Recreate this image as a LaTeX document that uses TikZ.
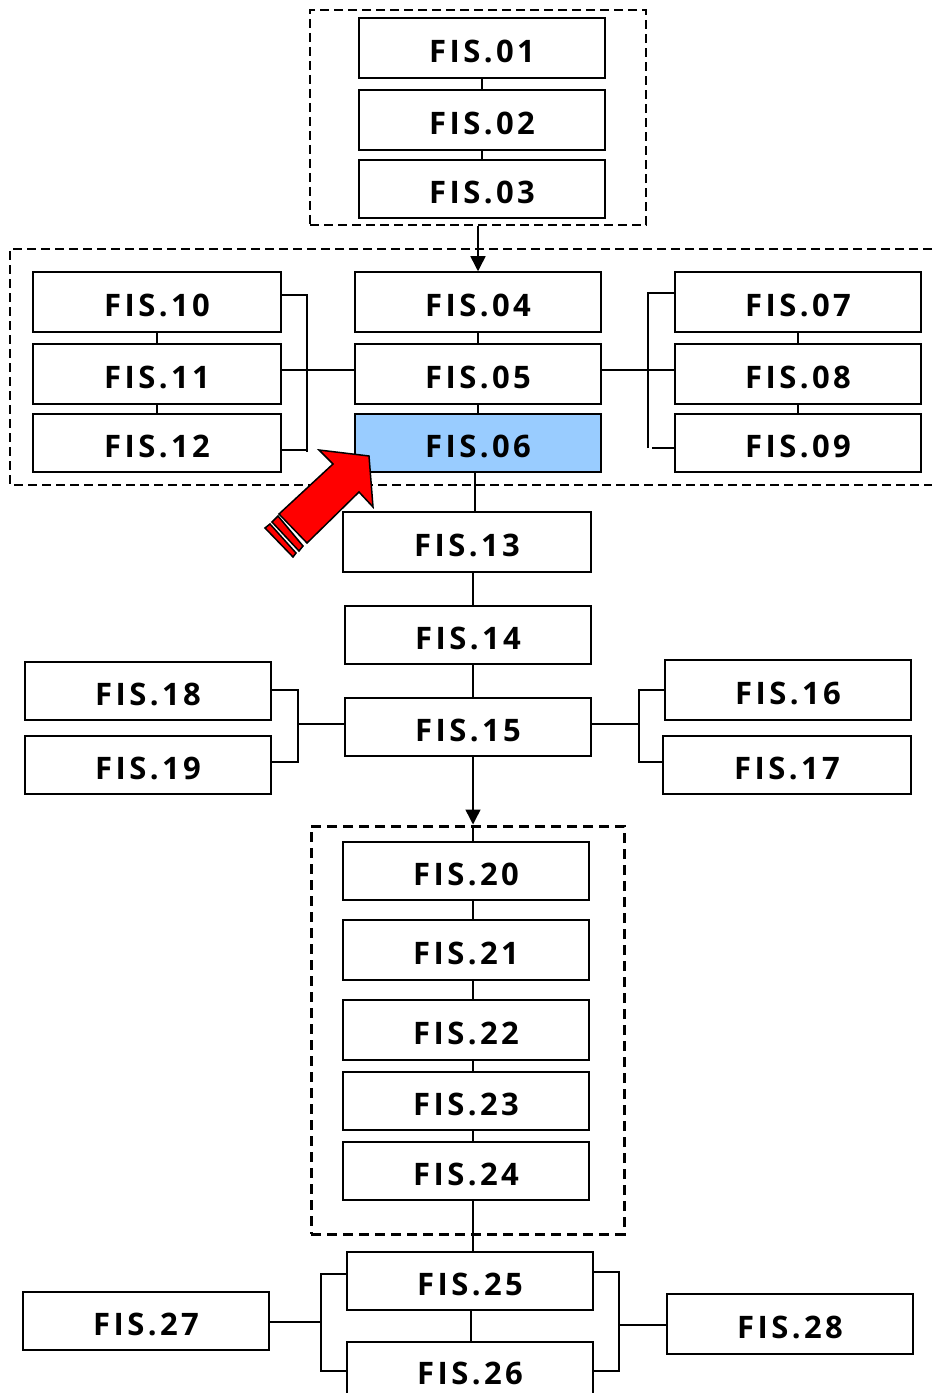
\documentclass[tikz,border=0pt]{standalone}
\usepackage{fontspec}
\usetikzlibrary{arrows.meta,calc}
\newfontfamily\fisfont[LetterSpace=11]{Open Sans}
\tikzset{
  fisbox/.style={draw=black,line width=1.5bp,fill=white,inner sep=0pt,font=\fisfont\bfseries\fontsize{31bp}{31bp}\selectfont},
  conn/.style={draw=black,line width=1.5bp},
  arrowconn/.style={conn,-{Triangle[length=15bp,width=15bp]}},
  frameA/.style={draw=black,line width=1.5bp,dash pattern=on 9bp off 5bp},
  frameB/.style={draw=black,line width=3bp,dash pattern=on 10bp off 6bp},
  redarrow/.style={draw=black,line width=1.5bp,fill=red,line join=miter}
}
\newcommand{\fis}[6][]{\node[fisbox,#1,minimum width=#4 bp-#2 bp,minimum height=#5 bp-#3 bp] (f#6) at ({(#2+#4)/2},{(#3+#5)/2}) {\raisebox{-14.5bp}[0pt][0pt]{FIS.#6}};}
\begin{document}
\begin{tikzpicture}[x=1bp,y=-1bp]
\useasboundingbox (0,0) rectangle (936,1393);
% dashed frames
\node[frameA,minimum width=336bp,minimum height=215bp,inner sep=0pt] (topframe) at (478,117.5) {};
\coordinate (midTR) at (932,249);
\coordinate (midTL) at (10,249);
\coordinate (midBL) at (10,485);
\coordinate (midBR) at (932,485);
\draw[frameA] (midTR) -- (midTL) -- (midBL) -- (midBR);
\node[frameB,minimum width=313bp,minimum height=408bp,inner sep=0pt] (lowframe) at (467.5,1030) {};
\fis{359}{18}{605}{78}{01}
\fis{359}{90}{605}{150}{02}
\fis{359}{160}{605}{218}{03}
\fis{355}{272}{601}{332}{04}
\fis{355}{344}{601}{404}{05}
\fis[fill={rgb,255:red,153;green,204;blue,255}]{355}{414}{601}{472}{06}
\fis{33}{272}{281}{332}{10}
\fis{33}{344}{281}{404}{11}
\fis{33}{414}{281}{472}{12}
\fis{675}{272}{921}{332}{07}
\fis{675}{344}{921}{404}{08}
\fis{675}{414}{921}{472}{09}
\fis{343}{512}{591}{572}{13}
\fis{345}{606}{591}{664}{14}
\fis{345}{698}{591}{756}{15}
\fis{25}{662}{271}{720}{18}
\fis{25}{736}{271}{794}{19}
\fis{665}{660}{911}{720}{16}
\fis{663}{736}{911}{794}{17}
\fis{343}{842}{589}{900}{20}
\fis{343}{920}{589}{980}{21}
\fis{343}{1000}{589}{1060}{22}
\fis{343}{1072}{589}{1130}{23}
\fis{343}{1142}{589}{1200}{24}
\fis{347}{1252}{593}{1310}{25}
\fis{347}{1342}{593}{1398}{26}
\fis{23}{1292}{269}{1350}{27}
\fis{667}{1294}{913}{1354}{28}
% connectors between nodes
\draw[arrowconn] (topframe.south -| f04.north) -- (f04.north);
\draw[conn] (f01.south) -- (f02.north);
\draw[conn] (f02.south) -- (f03.north);
\draw[conn] (f04.south) -- (f05.north);
\draw[conn] (f05.south) -- (f06.north);
\draw[conn] (f07.south) -- (f08.north);
\draw[conn] (f08.south) -- (f09.north);
\draw[conn] (f10.south) -- (f11.north);
\draw[conn] (f11.south) -- (f12.north);
\draw[conn] (f06.south -| 475,0) -- (f13.north -| 475,0);
\draw[conn] (f13.south -| 473,0) -- (f14.north -| 473,0);
\draw[conn] (f14.south -| 473,0) -- (f15.north -| 473,0);
\draw[arrowconn] (f15.south -| 473,0) -- (lowframe.north -| 473,0);
\draw[conn] (lowframe.north -| 473,0) -- (f20.north -| 473,0);
\draw[conn] (f20.south -| 473,0) -- (f21.north -| 473,0);
\draw[conn] (f21.south -| 473,0) -- (f22.north -| 473,0);
\draw[conn] (f22.south -| 473,0) -- (f23.north -| 473,0);
\draw[conn] (f23.south -| 473,0) -- (f24.north -| 473,0);
\draw[conn] (f24.south -| 473,0) -- (f25.north -| 473,0);
\draw[conn] (f25.south -| 471,0) -- (f26.north -| 471,0);
% brackets, upper group
\draw[conn] (f11.east |- 0,370) -- (f05.west |- 0,370);
\draw[conn] (f10.east |- 0,295) -- (307,295) -- (307,452);
\draw[conn] (f12.east |- 0,450) -- (307,450);
\draw[conn] (f05.east |- 0,370) -- (f08.west |- 0,370);
\draw[conn] (648,448) -- (648,293) -- (f07.west |- 0,293);
\draw[conn] (652,448) -- (f09.west |- 0,448);
% brackets, FIS.15
\draw[conn] (f15.west |- 0,724) -- (298,724);
\draw[conn] (f18.east |- 0,690) -| (298,762) -- (f19.east |- 0,762);
\draw[conn] (f15.east |- 0,724) -- (639,724);
\draw[conn] (f16.west |- 0,690) -| (639,762) -- (f17.west |- 0,762);
% brackets, FIS.25/26
\draw[conn] (f25.west |- 0,1274) -| (321,1371) -- (f26.west |- 0,1371);
\draw[conn] (f27.east |- 0,1322) -- (321,1322);
\draw[conn] (f25.east |- 0,1272) -- (619,1272) -- (619,1371) -- (f26.east |- 0,1371);
\draw[conn] (619,1325) -- (f28.west |- 0,1325);
% red arrow
\draw[redarrow] (319,450) -- (369,456) -- (373,507) -- (359,492) -- (307,543) -- (279,514) -- (333,464) -- cycle;
\draw[redarrow] (278,516) -- (303,546) -- (299,551) -- (272,522) -- cycle;
\draw[redarrow] (270,524) -- (296,553) -- (293,557) -- (265,528) -- cycle;
\end{tikzpicture}
\end{document}
